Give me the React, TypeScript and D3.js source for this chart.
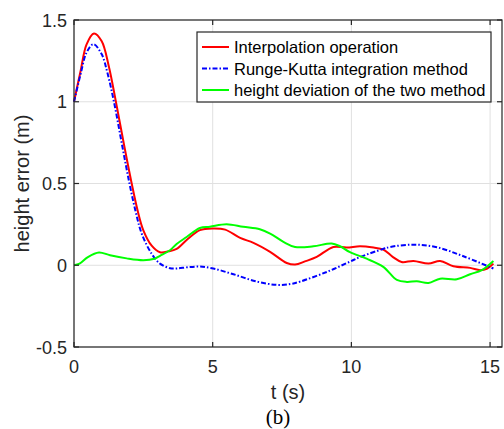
import React from "react";
import * as d3 from "d3";

const redT = [0, 0.24, 0.45, 0.72, 1.0, 1.25, 1.5, 1.8, 2.08, 2.3, 2.5, 2.8, 3.1, 3.4, 3.7, 4.1, 4.54, 5.02, 5.45, 5.99, 6.47, 7.07, 7.67, 7.97, 8.35, 8.75, 9.35, 9.83, 10.31, 10.8, 11.15, 11.5, 11.81, 12.24, 12.78, 13.2, 13.68, 14.28, 14.64, 14.9, 15.12];
const redV = [1.0, 1.19, 1.35, 1.418, 1.37, 1.22, 1.01, 0.74, 0.5, 0.33, 0.214, 0.12, 0.08, 0.085, 0.1, 0.16, 0.215, 0.225, 0.218, 0.167, 0.137, 0.082, 0.014, 0.004, 0.025, 0.051, 0.112, 0.108, 0.116, 0.108, 0.096, 0.05, 0.02, 0.026, 0.01, 0.026, -0.006, -0.016, -0.03, -0.02, 0.01];

const blueT = [0, 0.24, 0.45, 0.7, 1.0, 1.2, 1.44, 1.75, 2.0, 2.22, 2.44, 2.8, 3.1, 3.46, 3.7, 4.1, 4.54, 5.02, 5.75, 6.59, 7.31, 7.8, 8.15, 9.11, 9.95, 10.31, 11.15, 11.4, 12.24, 13.08, 14.04, 15.12];
const blueV = [1.0, 1.17, 1.3, 1.352, 1.29, 1.18, 1.0, 0.72, 0.5, 0.33, 0.194, 0.07, 0.01, -0.018, -0.02, -0.012, -0.008, -0.02, -0.055, -0.1, -0.12, -0.115, -0.1, -0.041, 0.022, 0.05, 0.1, 0.112, 0.126, 0.11, 0.055, -0.02];

const greenT = [0, 0.2, 0.5, 0.9, 1.3, 1.9, 2.5, 2.9, 3.1, 3.46, 3.7, 4.06, 4.54, 4.9, 5.5, 6.1, 6.7, 7.07, 7.55, 7.97, 8.63, 9.29, 9.59, 9.95, 10.55, 11.15, 11.64, 12.0, 12.36, 12.78, 13.2, 13.8, 14.28, 14.7, 15.12];
const greenV = [0, 0.01, 0.05, 0.078, 0.061, 0.042, 0.031, 0.04, 0.058, 0.092, 0.13, 0.173, 0.228, 0.236, 0.251, 0.235, 0.22, 0.194, 0.143, 0.112, 0.116, 0.133, 0.116, 0.08, 0.04, -0.01, -0.09, -0.102, -0.098, -0.108, -0.082, -0.086, -0.055, -0.03, 0.026];

const xTicks = [0, 5, 10, 15];
const yTicks = [-0.5, 0, 0.5, 1, 1.5];
const yTickLabels = ["-0.5", "0", "0.5", "1", "1.5"];
const legendLabels = ["Interpolation operation", "Runge-Kutta integration method", "height deviation of the two method"];
const seriesColors = ["#ff0000", "#0000ff", "#00ff00"];

const W = 504, H = 429;
const L = 74, R = 502, T = 20, B = 347;
const font = "'Liberation Sans', Arial, sans-serif";

export default function App() {
  const x = d3.scaleLinear().domain([0, 15.43]).range([L, R]);
  const y = d3.scaleLinear().domain([-0.5, 1.5]).range([B, T]);
  const line = d3.line<[number, number]>().x(d => x(d[0])).y(d => y(d[1])).curve(d3.curveCatmullRom.alpha(0.5));
  const zip = (a: number[], b: number[]) => a.map((t, i) => [t, b[i]] as [number, number]);
  const series = [
    { d: zip(redT, redV), c: seriesColors[0], dash: undefined as string | undefined },
    { d: zip(blueT, blueV), c: seriesColors[1], dash: "5,2,1.5,2" },
    { d: zip(greenT, greenV), c: seriesColors[2], dash: undefined },
  ];
  const axisColor = "#262626";
  const gridColor = "#e0e0e0";
  const tickLen = 5;
  const legX = 197, legY = 32, legW = 294, legH = 70;
  return (
    <svg width={W} height={H} style={{ position: "absolute", left: 0, top: 0, background: "#fff" }}>
      <rect x={0} y={0} width={W} height={H} fill="#fff" />
      {xTicks.map(t => (
        <line key={"gx" + t} x1={x(t)} x2={x(t)} y1={T} y2={B} stroke={gridColor} strokeWidth={1} />
      ))}
      {yTicks.map(t => (
        <line key={"gy" + t} x1={L} x2={R} y1={y(t)} y2={y(t)} stroke={gridColor} strokeWidth={1} />
      ))}
      <g fill="none">
        {series.map((s, i) => (
          <path key={i} d={line(s.d) || ""} stroke={s.c} strokeWidth={2} strokeDasharray={s.dash} />
        ))}
      </g>
      <rect x={L} y={T} width={R - L} height={B - T} fill="none" stroke={axisColor} strokeWidth={1.2} />
      {xTicks.map(t => (
        <g key={"tx" + t}>
          <line x1={x(t)} x2={x(t)} y1={B} y2={B - tickLen} stroke={axisColor} strokeWidth={1.2} />
          <line x1={x(t)} x2={x(t)} y1={T} y2={T + tickLen} stroke={axisColor} strokeWidth={1.2} />
          <text x={x(t)} y={373} textAnchor="middle" fontFamily={font} fontSize={18} fill={axisColor}>{t}</text>
        </g>
      ))}
      {yTicks.map((t, i) => (
        <g key={"ty" + t}>
          <line x1={L} x2={L + tickLen} y1={y(t)} y2={y(t)} stroke={axisColor} strokeWidth={1.2} />
          <line x1={R} x2={R - tickLen} y1={y(t)} y2={y(t)} stroke={axisColor} strokeWidth={1.2} />
          <text x={67} y={y(t) + 6.5} textAnchor="end" fontFamily={font} fontSize={18} fill={axisColor}>{yTickLabels[i]}</text>
        </g>
      ))}
      <text transform={`translate(29,${(T + B) / 2}) rotate(-90)`} textAnchor="middle" fontFamily={font} fontSize={20} fill={axisColor}>height error (m)</text>
      <text x={(L + R) / 2} y={399} textAnchor="middle" fontFamily={font} fontSize={20} fill={axisColor}>t (s)</text>
      <text x={278} y={424} textAnchor="middle" fontFamily="'Liberation Serif', 'Times New Roman', serif" fontSize={21} fill="#000">(b)</text>
      <rect x={legX} y={legY} width={legW} height={legH} fill="#fff" stroke={axisColor} strokeWidth={1.2} />
      {legendLabels.map((lab, i) => {
        const cy = 47 + i * 21.5;
        return (
          <g key={lab}>
            <line x1={202} x2={229} y1={cy} y2={cy} stroke={seriesColors[i]} strokeWidth={2} strokeDasharray={series[i].dash} />
            <text x={234} y={cy + 6} fontFamily={font} fontSize={16.5} fill="#000">{lab}</text>
          </g>
        );
      })}
    </svg>
  );
}
